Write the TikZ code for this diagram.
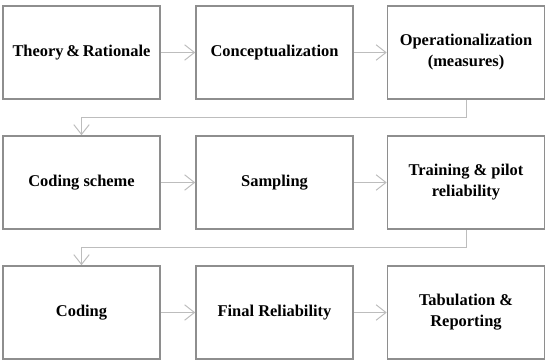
\documentclass[tikz,border=0pt]{standalone}
\usepackage{fontspec}
\setmainfont{Liberation Serif}
\usepackage{xcolor}
\usepackage{tikz}
\usetikzlibrary{positioning,arrows.meta}

\definecolor{boxline}{HTML}{8E8E8E}
\definecolor{flowline}{HTML}{BDBDBD}

\begin{document}
\begin{tikzpicture}[
  stage/.style={
    draw=boxline,
    line width=1.1pt,
    align=center,
    minimum width=3.925cm,
    minimum height=2.325cm,
    fill=white,
    font=\fontsize{11.7}{15}\selectfont\bfseries
  },
  flow/.style={-{Straight Barb[length=7pt,width=11pt]}, draw=flowline, line width=0.7pt}
]
  \useasboundingbox (0,0) rectangle (13.75,-9.1);

  \node[stage] (theory) at (2.0375,-1.3125) {Theory\,\&\,Rationale};
  \node[stage] (concept) at (6.8625,-1.3125) {Conceptualization};
  \node[stage] (oper) at (11.65,-1.3125) {Operationalization\\(measures)};
  \node[stage] (scheme) at (2.0375,-4.5625) {Coding scheme};
  \node[stage] (sampling) at (6.8625,-4.5625) {Sampling};
  \node[stage] (training) at (11.65,-4.5625) {Training \& pilot\\reliability};
  \node[stage] (coding) at (2.0375,-7.8125) {Coding};
  \node[stage] (final) at (6.8625,-7.8125) {Final Reliability};
  \node[stage] (report) at (11.65,-7.8125) {Tabulation \&\\Reporting};

  \draw[flow] (theory) -- (concept);
  \draw[flow] (concept) -- (oper);
  \draw[flow] (oper.south) -- ++(0,-0.45) -| (scheme.north);
  \draw[flow] (scheme) -- (sampling);
  \draw[flow] (sampling) -- (training);
  \draw[flow] (training.south) -- ++(0,-0.45) -| (coding.north);
  \draw[flow] (coding) -- (final);
  \draw[flow] (final) -- (report);
\end{tikzpicture}
\end{document}
